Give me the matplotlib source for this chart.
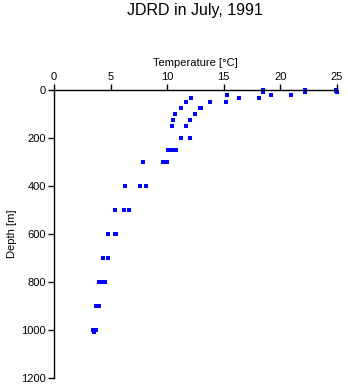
import numpy as np
import matplotlib
matplotlib.use("Agg")
import matplotlib.pyplot as plt

## data
temps = [24.9, 24.9, 25.0, 22.2, 22.2, 18.5, 18.5,
         21.0, 19.2, 15.3,
         18.1, 16.4, 12.1,
         15.2, 13.8, 11.7,
         13.0, 12.9, 11.2,
         12.5, 10.7,
         10.5, 12.0,
         10.45, 11.7,
         11.25, 12.0,
         10.1, 10.4, 10.75,
         7.9, 9.6, 10.0,
         6.3, 7.6, 8.1,
         5.4, 6.2, 6.6,
         4.8, 5.35, 5.5,
         4.35, 4.8,
         4.0, 4.25, 4.5,
         3.7, 3.95,
         3.45, 3.7, 3.5]
depths = [0, 5, 10, 0, 8, 0, 8,
          20, 20, 20,
          32, 32, 32,
          50, 50, 50,
          75, 75, 75,
          100, 100,
          125, 125,
          150, 150,
          200, 200,
          250, 250, 250,
          300, 300, 300,
          400, 400, 400,
          500, 500, 500,
          600, 600, 600,
          700, 700,
          800, 800, 800,
          900, 900,
          1000, 1000, 1010]

xticks = [0, 5, 10, 15, 20, 25]
yticks = [0, 200, 400, 600, 800, 1000, 1200]

plt.rcParams['font.family'] = ['Liberation Sans', 'DejaVu Sans']

fig = plt.figure(figsize=(3.48, 3.84), dpi=100)
ax = fig.add_axes([0.1552, 0.0156, 0.8124, 0.75])

ax.plot(temps, depths, 's', color='#0000ff', ms=2.2, mew=0, clip_on=False)

ax.set_xlim(0, 25)
ax.set_ylim(1200, 0)
ax.set_xticks(xticks)
ax.set_yticks(yticks)

ax.xaxis.tick_top()
ax.xaxis.set_label_position('top')
ax.spines['bottom'].set_visible(False)
ax.spines['right'].set_visible(False)
ax.spines['top'].set_linewidth(1)
ax.spines['left'].set_linewidth(1)
ax.tick_params(direction='out', length=4, width=1, labelsize=8, pad=2)

ax.set_xlabel('Temperature [\u00b0C]', fontsize=8, labelpad=4)
ax.set_ylabel('Depth [m]', fontsize=8, labelpad=3)

fig.text(0.561, 0.972, 'JDRD in July, 1991', ha='center', va='center', fontsize=11.5)

fig.savefig('out.png', dpi=100)
